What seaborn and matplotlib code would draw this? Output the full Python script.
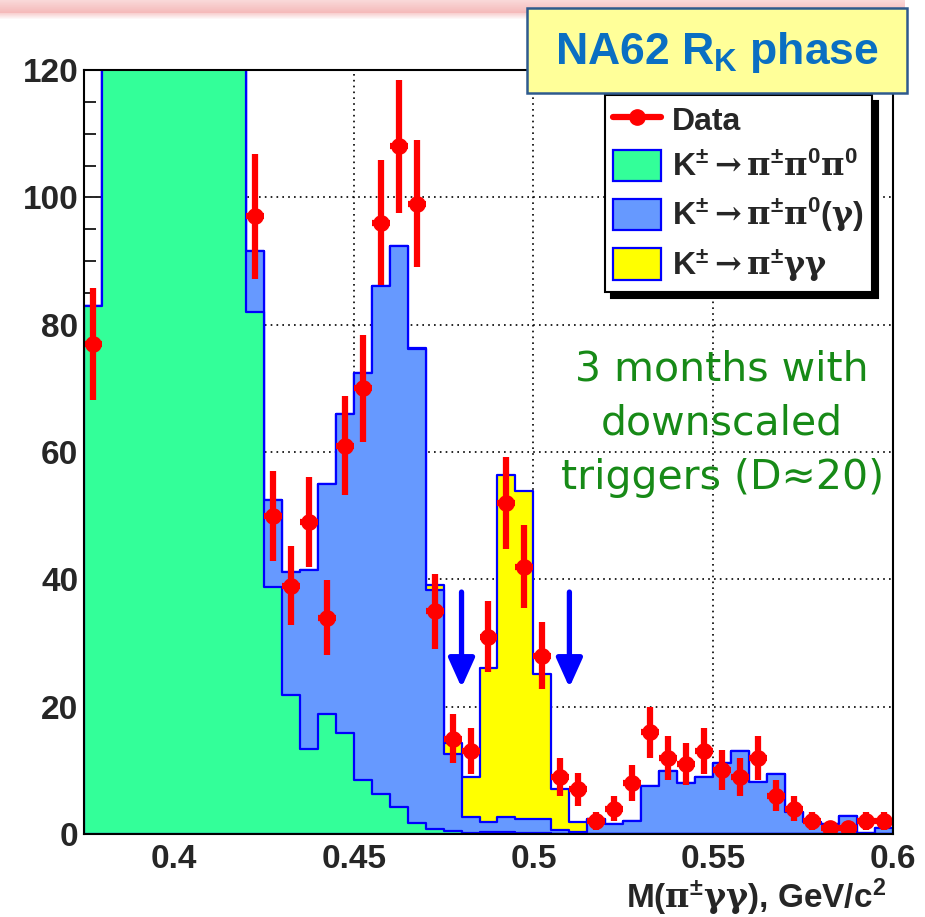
import numpy as np
import pandas as pd
import matplotlib
matplotlib.use("Agg")
import matplotlib.pyplot as plt
import seaborn as sns
from matplotlib.ticker import MultipleLocator, FixedLocator
from matplotlib.patches import Rectangle, Patch
from matplotlib.lines import Line2D

# ---------------- data ----------------
bin_start = 0.375
bin_width = 0.005
n_bins = 45

# K+- -> pi+- pi0 pi0 (bins 1..8 are off-scale, estimated)
k3pi = [83, 150, 240, 330, 390, 400, 360, 280, 190, 82, 38.8, 21.8, 13.3, 18.8,
        15.9, 8.5, 6.3, 4.2, 1.8, 0.8, 0.5, 0.2, 0.3, 0.3, 0.2, 0.2,
        0, 0, 0, 0, 0, 0, 0, 0, 0, 0, 0, 0, 0, 0, 0, 0, 0, 0, 0]
# K+- -> pi+- pi0 (gamma)
k2pi = [0, 2, 2, 2, 2, 2, 2, 2, 2, 9.5, 13.7, 19.4, 28.1, 36.2, 50.1, 63.9,
        79.8, 88.1, 74.4, 37.6, 12.1, 2.5, 1.6, 2.4, 2.2, 2.1, 0.7, 0.3,
        2.3, 1.5, 2.0, 7.5, 9.9, 8.0, 9.0, 11.1, 13.1, 8.1, 9.5, 3.5, 1.9,
        1.6, 2.8, 0.1, 0.9]
# K+- -> pi+- gamma gamma
kpigg = [0, 0, 0, 0, 0, 0, 0, 0, 0, 0, 0, 0, 0, 0, 0, 0, 0, 0, 0.2, 0.7, 1.7,
         6.2, 24.1, 53.7, 51.4, 22.8, 6.4, 1.6, 0, 0, 0, 0, 0, 0, 0, 0, 0, 0,
         0, 0, 0, 0, 0, 0, 0]
# observed counts (bins 1..8 are off-scale, estimated)
data_counts = [77, 160, 250, 340, 400, 410, 370, 290, 200, 97, 50, 39, 49, 34,
               61, 70, 96, 108, 99, 35, 15, 13, 31, 52, 42, 28, 9, 7, 2, 4, 8,
               16, 12, 11, 13, 10, 9, 12, 6, 4, 2, 1, 1, 2, 2]

arrow_x = [0.48, 0.51]
arrow_from, arrow_to = 38, 23

xtick_vals = [0.4, 0.45, 0.5, 0.55, 0.6]
xtick_labels = ["0.4", "0.45", "0.5", "0.55", "0.6"]
ytick_vals = [0, 20, 40, 60, 80, 100, 120]

legend_labels = ["Data",
                 r"K$^{\pm}\mathrm{\rightarrow}\mathrm{\pi}^{\pm}\mathrm{\pi}^{0}\mathrm{\pi}^{0}$",
                 r"K$^{\pm}\mathrm{\rightarrow}\mathrm{\pi}^{\pm}\mathrm{\pi}^{0}(\mathrm{\gamma})$",
                 r"K$^{\pm}\mathrm{\rightarrow}\mathrm{\pi}^{\pm}\mathrm{\gamma\gamma}$"]

# ---------------- styling ----------------
sns.set_style("white")
plt.rcParams['font.family'] = ['Liberation Sans', 'DejaVu Sans']
plt.rcParams['font.weight'] = 'bold'
plt.rcParams['mathtext.fontset'] = 'custom'
plt.rcParams['mathtext.rm'] = 'DejaVu Serif:bold'
plt.rcParams['mathtext.it'] = 'Liberation Sans:bold'
plt.rcParams['mathtext.bf'] = 'Liberation Sans:bold'
plt.rcParams['mathtext.sf'] = 'Liberation Sans:bold'
plt.rcParams['mathtext.default'] = 'bf'
plt.rcParams['mathtext.fallback'] = 'stixsans'

GREEN = '#33ff99'
BLUE = '#6699ff'
YELLOW = '#ffff00'
EDGE = '#0000ff'

edges = bin_start + bin_width * np.arange(n_bins + 1)
centers = edges[:-1] + bin_width / 2
bin_list = [float(e) for e in edges]

df = pd.DataFrame({
    "m": centers,
    "k3pi": k3pi,
    "k2pi": k2pi,
    "kpigg": kpigg,
    "data": data_counts,
})
df["cum_green"] = df["k3pi"]
df["cum_blue"] = df["k3pi"] + df["k2pi"]
df["cum_yellow"] = df["cum_blue"] + df["kpigg"]

fig = plt.figure(figsize=(9.25, 9.17), dpi=100)
ax = fig.add_axes([84 / 925, 1 - 834 / 917, 809 / 925, 764 / 917])

# stacked histogram drawn ROOT-style (cumulative layers)
for col, colr, z in (("cum_yellow", YELLOW, 1), ("cum_blue", BLUE, 2), ("cum_green", GREEN, 3)):
    sns.histplot(data=df, x="m", weights=col, bins=bin_list, element="step",
                 fill=True, color=colr, edgecolor=EDGE, linewidth=1.6,
                 alpha=1, ax=ax, zorder=z)

# data points
ax.errorbar(df["m"], df["data"], yerr=np.sqrt(df["data"]), xerr=bin_width / 2,
            fmt='o', color='red', ms=11, lw=4.5, capsize=0, zorder=4)

# arrows
for xa in arrow_x:
    ax.annotate('', xy=(xa, arrow_to), xytext=(xa, arrow_from),
                arrowprops=dict(arrowstyle='-|>,head_length=0.8,head_width=0.36',
                                color='#0000ff', lw=3.8, mutation_scale=22,
                                shrinkA=0, shrinkB=0), zorder=6)

ax.set_xlim(bin_start, 0.6)
ax.set_ylim(0, 120)
ax.set_xlabel("")
ax.set_ylabel("")
ax.xaxis.set_major_locator(FixedLocator(xtick_vals))
ax.set_xticklabels(xtick_labels)
ax.xaxis.set_minor_locator(MultipleLocator(0.01))
ax.yaxis.set_major_locator(FixedLocator(ytick_vals))
ax.yaxis.set_minor_locator(MultipleLocator(5))
ax.tick_params(which='major', direction='in', length=16, width=1.4, labelsize=24,
               top=False, right=False, left=True, bottom=True)
ax.tick_params(which='minor', direction='in', length=8.5, width=1.4,
               top=False, right=False, left=True, bottom=True)
ax.tick_params(axis='y', which='major', pad=4)
ax.tick_params(axis='x', which='major', pad=7)
for s in ax.spines.values():
    s.set_linewidth(1.5)
    s.set_color('black')
    s.set_zorder(10)
ax.grid(True, which='major', color='black', linestyle=(0, (1, 2.5)), linewidth=1.2)
ax.set_axisbelow(True)

ax.text(0.991, -0.055, r"M($\mathrm{\pi}^{\pm}\mathrm{\gamma\gamma}$), GeV/c$^{2}$",
        transform=ax.transAxes, ha='right', va='top', fontsize=24)

# legend
handles = [Line2D([], [], color='red', lw=4.5, marker='o', ms=11),
           Patch(facecolor=GREEN, edgecolor=EDGE, linewidth=1.6),
           Patch(facecolor=BLUE, edgecolor=EDGE, linewidth=1.6),
           Patch(facecolor=YELLOW, edgecolor=EDGE, linewidth=1.6)]
leg = ax.legend(handles, legend_labels, loc='upper left', bbox_to_anchor=(0.644, 0.967),
                fontsize=23, frameon=True, fancybox=False, edgecolor='black',
                framealpha=1, borderpad=0.25, handlelength=1.5, handleheight=1.15,
                handletextpad=0.35, labelspacing=0.4, borderaxespad=0,
                shadow={'ox': 4.5, 'oy': -4.5, 'color': 'black', 'alpha': 1})
leg.get_frame().set_linewidth(1.5)
leg.set_zorder(20)

# green annotation
ax.text(0.789, 0.537, "3 months with\ndownscaled\ntriggers (D\u224820)",
        transform=ax.transAxes, ha='center', va='center', fontsize=29.5,
        color='#178a17', family=['DejaVu Sans'], fontweight='normal',
        linespacing=1.45, zorder=7)

# pink slide band at top
band = fig.add_axes([0, 1 - 20 / 917, 905 / 925, 20 / 917])
band.axis('off')
grad = np.zeros((20, 1, 4))
grad[:, :, 0] = 0.96
grad[:, :, 1] = 0.70
grad[:, :, 2] = 0.70
alpha_rows = np.concatenate([np.linspace(0.5, 0.9, 13), np.linspace(0.6, 0.0, 7)])
grad[:, 0, 3] = alpha_rows
band.imshow(grad, aspect='auto', interpolation='bilinear')

# title box
fig.add_artist(Rectangle((527 / 925, 1 - 93 / 917), 380 / 925, 85 / 917,
                         transform=fig.transFigure, facecolor='#ffff99',
                         edgecolor='#2e5a8e', linewidth=1.8, zorder=30))
fig.text(717 / 925, 1 - 64 / 917, r"NA62 R$_\mathsf{K}$ phase", ha='center',
         va='baseline', fontsize=32, color='#0a6fc2', zorder=31)

fig.savefig("out.png", dpi=100)
